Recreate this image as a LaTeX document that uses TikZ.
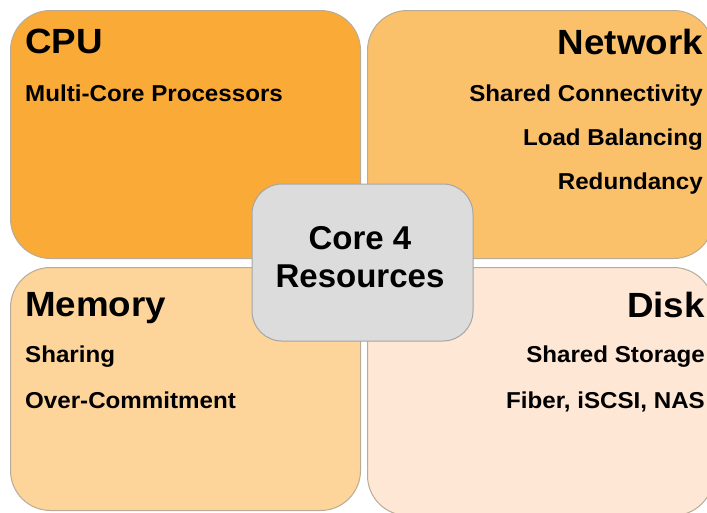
\documentclass[tikz,border=0pt]{standalone}
\usepackage{fontspec}
\setmainfont{Liberation Sans}
\newfontfamily\widesans[FakeStretch=1.05]{Liberation Sans}
\definecolor{cpuC}{RGB}{250,170,55}
\definecolor{netC}{RGB}{251,192,106}
\definecolor{memC}{RGB}{253,212,154}
\definecolor{diskC}{RGB}{254,231,212}
\definecolor{edgeC}{RGB}{185,172,150}
\definecolor{coreC}{RGB}{220,220,220}
\definecolor{coreE}{RGB}{165,165,165}
\begin{document}
\begin{tikzpicture}[x=1pt,y=-1pt,
  quad/.style={draw=edgeC,line width=1pt,rounded corners=40pt,anchor=north west,inner sep=0pt},
  ttl/.style={font=\widesans\bfseries\fontsize{35}{35}\selectfont,inner sep=0pt},
  sub/.style={font=\widesans\bfseries\fontsize{23}{23}\selectfont,inner sep=0pt},
  corebox/.style={draw=coreE,fill=coreC,line width=1pt,rounded corners=30pt,minimum width=221pt,minimum height=157pt,inner sep=0pt},
  coretxt/.style={font=\bfseries\fontsize{33}{38}\selectfont,align=center,inner sep=0pt}]
\useasboundingbox (0,0) rectangle (707,512);
\fill[white] (0,0) rectangle (707,512);
\clip (0,0) rectangle (707,512);
\node[quad,fill=cpuC,minimum width=350pt,minimum height=248pt] (cpu) at (10,10) {};
\node[quad,fill=netC,minimum width=346pt,minimum height=248pt] (net) at (367,10) {};
\node[quad,fill=memC,minimum width=350pt,minimum height=243pt] (mem) at (10,267) {};
\node[quad,fill=diskC,minimum width=346pt,minimum height=248pt] (disk) at (367,267) {};
\node[corebox] (core) at (362.5,262.5) {};
\node[coretxt,anchor=base] (core1) at (360,249) {Core 4};
\node[coretxt,anchor=base] (core2) at (360,287) {Resources};
% CPU
\node[ttl,anchor=base west] (cpuT) at (25,53) {CPU};
\node[sub,anchor=base west] (cpu1) at (25,101) {Multi-Core Processors};
% Network
\node[ttl,anchor=base east] (netT) at (703,54) {Network};
\node[sub,anchor=base east] (net1) at (703,101) {Shared Connectivity};
\node[sub,anchor=base east] (net2) at (703,145) {Load Balancing};
\node[sub,anchor=base east] (net3) at (703,189) {Redundancy};
% Memory
\node[ttl,anchor=base west] (memT) at (25,316) {Memory};
\node[sub,anchor=base west] (mem1) at (25,362) {Sharing};
\node[sub,anchor=base west] (mem2) at (25,408) {Over-Commitment};
% Disk
\node[ttl,anchor=base east] (diskT) at (705,317) {Disk};
\node[sub,anchor=base east] (disk1) at (705,362) {Shared Storage};
\node[sub,anchor=base east] (disk2) at (705,408) {Fiber, iSCSI, NAS};
\end{tikzpicture}
\end{document}
